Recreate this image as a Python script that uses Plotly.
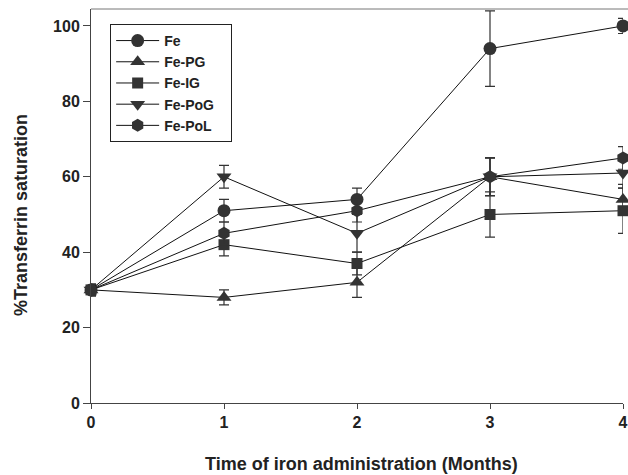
import plotly.graph_objects as go

months = [0, 1, 2, 3, 4]
fe = [30, 51, 54, 94, 100]
fe_err = [1.5, 3, 3, 10, 2]
fe_pg = [30, 28, 32, 60, 54]
fe_pg_err = [1.5, 2, 4, 5, 4]
fe_ig = [30, 42, 37, 50, 51]
fe_ig_err = [1.5, 3, 3, 6, 6]
fe_pog = [30, 60, 45, 60, 61]
fe_pog_err = [1.5, 3, 5, 5, 4]
fe_pol = [30, 45, 51, 60, 65]
fe_pol_err = [1.5, 3, 3, 5, 3]
y_ticks = [0, 20, 40, 60, 80, 100]

series = [
    ("Fe", fe, fe_err, "circle", 13),
    ("Fe-PG", fe_pg, fe_pg_err, "triangle-up", 13),
    ("Fe-IG", fe_ig, fe_ig_err, "square", 11),
    ("Fe-PoG", fe_pog, fe_pog_err, "triangle-down", 13),
    ("Fe-PoL", fe_pol, fe_pol_err, "hexagon", 13),
]

FONT = "Liberation Sans"
fig = go.Figure()
for name, vals, err, sym, sz in series:
    fig.add_trace(go.Scatter(
        x=months, y=vals, name="<b>%s</b>   " % name, mode="lines+markers",
        line=dict(color="#111111", width=1),
        marker=dict(symbol=sym, size=sz, color="#333333"),
        error_y=dict(type="data", array=err, visible=True, color="#333333", thickness=1.2, width=5),
        cliponaxis=False,
    ))

fig.update_layout(
    width=628, height=475,
    margin=dict(l=91, r=5, t=9, b=72),
    paper_bgcolor="white", plot_bgcolor="white",
    font=dict(family=FONT, size=16, color="#222222"),
    showlegend=True,
    legend=dict(
        x=0.036, y=0.962, xanchor="left", yanchor="top",
        bordercolor="#222222", borderwidth=1, bgcolor="rgba(255,255,255,0)",
        font=dict(family=FONT, size=14, color="#222222"),
        tracegroupgap=0, itemwidth=43,
    ),
    xaxis=dict(
        range=[0, 4], tickvals=months, ticktext=["<b>%d</b>" % m for m in months],
        showgrid=False, zeroline=False, showline=True, linecolor="#444444", linewidth=1,
        ticks="outside", ticklen=5, tickcolor="#444444", automargin=False,
        tickfont=dict(size=16),
    ),
    yaxis=dict(
        range=[0, 104.5], tickvals=y_ticks,
        ticktext=["<b>%d</b>" % v for v in y_ticks],
        showgrid=False, zeroline=False, showline=True, linecolor="#444444", linewidth=1,
        ticks="outside", ticklen=7, tickcolor="#444444", automargin=False,
        tickfont=dict(size=16),
    ),
    annotations=[
        dict(text="<b>Time of iron administration (Months)</b>", xref="paper", yref="paper",
             x=0.509, y=-0.155, xanchor="center", yanchor="middle", showarrow=False,
             font=dict(family=FONT, size=18, color="#222222")),
        dict(text="<b>%Transferrin saturation</b>", xref="paper", yref="paper",
             x=-0.1316, y=0.477, xanchor="center", yanchor="middle", showarrow=False,
             textangle=-90, font=dict(family=FONT, size=18, color="#222222")),
    ],
)
# top frame line
fig.add_shape(type="line", xref="paper", yref="paper", x0=0, x1=1.02, y0=1, y1=1,
              line=dict(color="#777777", width=1))

fig.write_html("out.html")
